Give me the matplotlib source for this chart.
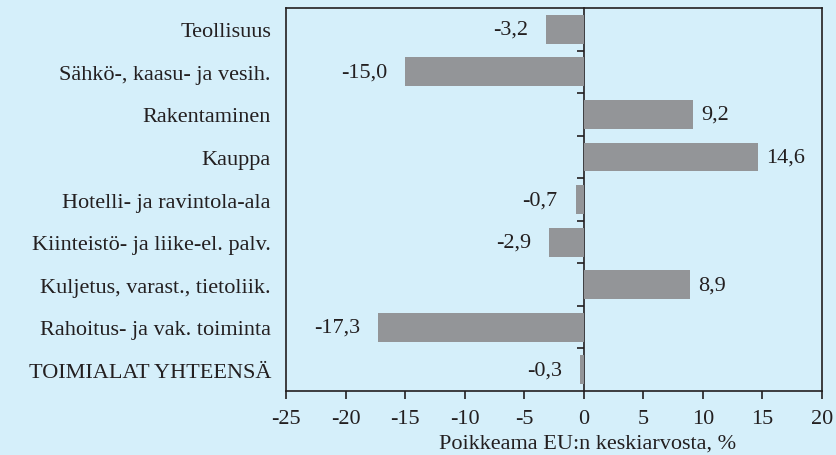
import matplotlib
matplotlib.use("Agg")
import matplotlib.pyplot as plt
import numpy as np

categories = [
    "Teollisuus",
    "Sähkö-, kaasu- ja vesih.",
    "Rakentaminen",
    "Kauppa",
    "Hotelli- ja ravintola-ala",
    "Kiinteistö- ja liike-el. palv.",
    "Kuljetus, varast., tietoliik.",
    "Rahoitus- ja vak. toiminta",
    "TOIMIALAT YHTEENSÄ",
]
values = [-3.2, -15.0, 9.2, 14.6, -0.7, -2.9, 8.9, -17.3, -0.3]
xticks = [-25, -20, -15, -10, -5, 0, 5, 10, 15, 20]
xlabel = "Poikkeama EU:n keskiarvosta, %"

bg = "#d5effa"
bar_color = "#939598"
text_color = "#231f20"
fs = 16

plt.rcParams["font.family"] = ["Liberation Serif", "DejaVu Serif"]

fig = plt.figure(figsize=(8.37, 4.56), dpi=100)
fig.patch.set_facecolor(bg)
ax = fig.add_axes([0.342, 0.1404, 0.982 - 0.342, 0.980 - 0.1404])
ax.set_facecolor(bg)

y = np.arange(len(categories))
ax.barh(y, values, height=0.68, color=bar_color, zorder=2)

ax.set_xlim(-25, 20)
ax.set_ylim(len(categories) - 0.5, -0.5)
ax.set_xticks(xticks)
ax.set_xticklabels([str(t) for t in xticks], fontsize=fs, color=text_color)
ax.tick_params(axis="x", direction="out", length=6, width=1.2, pad=7, color=text_color)
ax.set_yticks(y)
ax.set_yticklabels(categories, fontsize=fs, color=text_color)
ax.tick_params(axis="y", length=0, pad=11)
ax.set_xlabel(xlabel, fontsize=fs, color=text_color, labelpad=4)
ax.xaxis.label.set_x(0.5616)

for s in ax.spines.values():
    s.set_color(text_color)
    s.set_linewidth(1.2)

# vertical axis at zero with tick marks between categories
sec = ax.secondary_yaxis(location=(0 - (-25)) / (20 - (-25)))
sec.set_yticks(np.arange(len(categories) - 1) + 0.5)
sec.set_yticklabels([])
sec.tick_params(axis="y", direction="in", length=5, width=1.2, color=text_color)
for sp in sec.spines.values():
    sp.set_color(text_color)
    sp.set_linewidth(1.2)

for yi, v in zip(y, values):
    label = f"{v:.1f}".replace(".", ",")
    if v < 0:
        ax.annotate(label, xy=(v, yi), xytext=(-18, 0), textcoords="offset pixels",
                    ha="right", va="center", fontsize=fs, color=text_color)
    else:
        ax.annotate(label, xy=(v, yi), xytext=(8, 0), textcoords="offset pixels",
                    ha="left", va="center", fontsize=fs, color=text_color)

fig.savefig("out.png", dpi=100, facecolor=bg)
